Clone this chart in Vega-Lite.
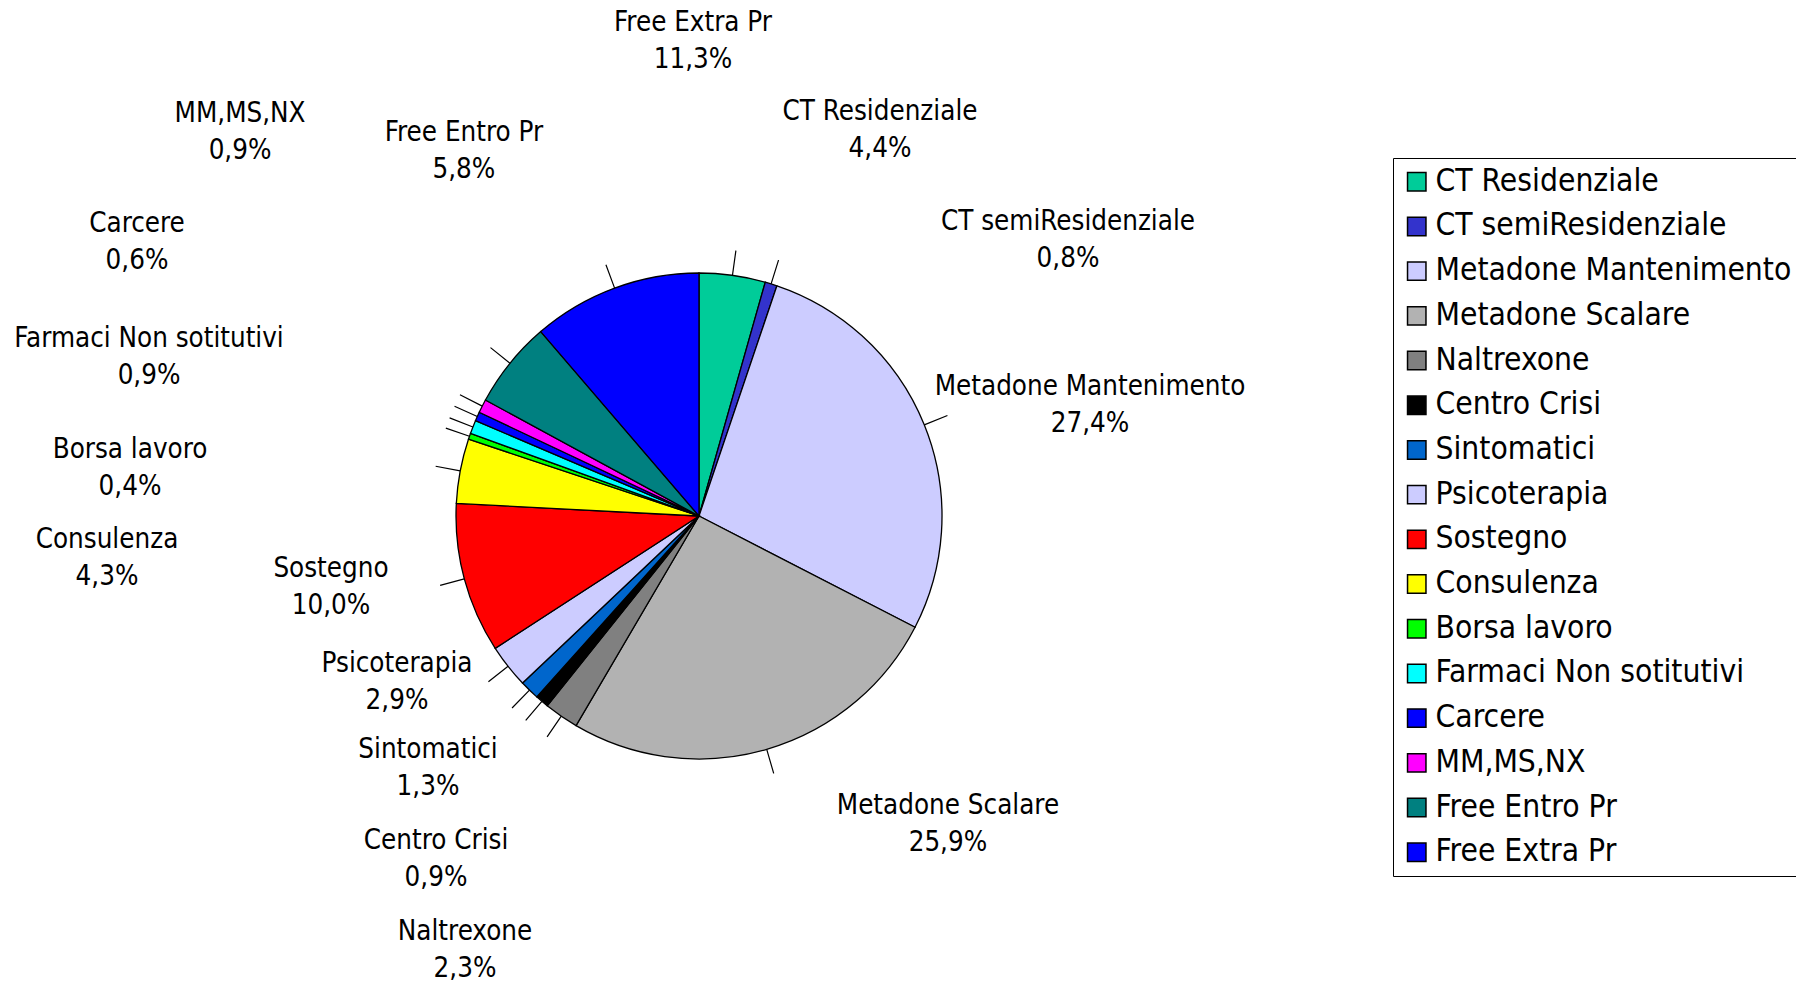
{
  "$schema": "https://vega.github.io/schema/vega-lite/v6.json",
  "width": 1398,
  "height": 930,
  "autosize": {"type": "none"},
  "padding": {"left": 0, "top": 51, "right": 398, "bottom": 1},
  "background": "white",
  "data": {
    "values": [
      {"rank": 1, "name": "CT Residenziale", "share": 0.044},
      {"rank": 2, "name": "CT semiResidenziale", "share": 0.008},
      {"rank": 3, "name": "Metadone Mantenimento", "share": 0.274},
      {"rank": 4, "name": "Metadone Scalare", "share": 0.259},
      {"rank": 5, "name": "Naltrexone", "share": 0.023},
      {"rank": 6, "name": "Centro Crisi", "share": 0.009},
      {"rank": 7, "name": "Sintomatici", "share": 0.013},
      {"rank": 8, "name": "Psicoterapia", "share": 0.029},
      {"rank": 9, "name": "Sostegno", "share": 0.100},
      {"rank": 10, "name": "Consulenza", "share": 0.043},
      {"rank": 11, "name": "Borsa lavoro", "share": 0.004},
      {"rank": 12, "name": "Farmaci Non sotitutivi", "share": 0.009},
      {"rank": 13, "name": "Carcere", "share": 0.006},
      {"rank": 14, "name": "MM,MS,NX", "share": 0.009},
      {"rank": 15, "name": "Free Entro Pr", "share": 0.058},
      {"rank": 16, "name": "Free Extra Pr", "share": 0.113}
    ]
  },
  "layer": [
    {
      "mark": {"type": "arc", "outerRadius": 243, "stroke": "black", "strokeWidth": 1.3},
      "encoding": {
        "theta": {"field": "share", "type": "quantitative", "stack": true},
        "order": {"field": "rank", "type": "quantitative"},
        "fill": {
          "field": "name",
          "type": "nominal",
          "scale": {
            "domain": ["CT Residenziale", "CT semiResidenziale", "Metadone Mantenimento", "Metadone Scalare", "Naltrexone", "Centro Crisi", "Sintomatici", "Psicoterapia", "Sostegno", "Consulenza", "Borsa lavoro", "Farmaci Non sotitutivi", "Carcere", "MM,MS,NX", "Free Entro Pr", "Free Extra Pr"],
            "range": ["#00CC99", "#3333CC", "#CCCCFF", "#B2B2B2", "#808080", "#000000", "#0066CC", "#CCCCFF", "#FF0000", "#FFFF00", "#00FF00", "#00FFFF", "#0000FF", "#FF00FF", "#008080", "#0000FF"]
          },
          "legend": {
            "title": null,
            "orient": "none",
            "legendX": 1393,
            "legendY": 107,
            "symbolType": "square",
            "symbolSize": 340,
            "symbolStrokeColor": "black",
            "symbolStrokeWidth": 1.5,
            "symbolOpacity": 1,
            "labelFont": "DejaVu Sans Condensed",
            "labelFontSize": 31.5,
            "labelColor": "black",
            "labelOffset": 3,
            "labelLimit": 1000,
            "rowPadding": 11.7,
            "padding": 8,
            "strokeColor": "black",
            "fillColor": "white"
          }
        }
      }
    },
    {
      "mark": {"type": "arc", "innerRadius": 243, "outerRadius": 268, "padAngle": 3.1416, "stroke": "black", "strokeWidth": 1.2, "fill": "black"},
      "encoding": {
        "theta": {"field": "share", "type": "quantitative", "stack": true},
        "order": {"field": "rank", "type": "quantitative"},
        "detail": {"field": "name", "type": "nominal"}
      }
    },
    {
      "mark": {"type": "text", "dy": -18.5, "fontSize": 27.5, "font": "DejaVu Sans Condensed", "align": "center", "baseline": "middle", "color": "black"},
      "encoding": {
        "theta": {"field": "rank", "type": "quantitative", "stack": null, "scale": {"type": "linear", "zero": false, "nice": false, "domain": [1, 2, 3, 4, 5, 6, 7, 8, 9, 10, 11, 12, 13, 14, 15, 16], "range": [0.4390, 0.9303, 1.2954, 2.4634, 3.6360, 3.7943, 3.9613, 4.2097, 4.5192, 4.6415, 4.7965, 4.9922, 5.1647, 5.4091, 5.7098, 6.2706]}},
        "radius": {"field": "rank", "type": "quantitative", "scale": {"type": "linear", "zero": false, "nice": false, "domain": [1, 2, 3, 4, 5, 6, 7, 8, 9, 10, 11, 12, 13, 14, 15, 16], "range": [425.9, 460.2, 406.3, 396.8, 493.1, 433.0, 370.7, 344.6, 375.0, 593.5, 571.0, 572.2, 624.8, 598.4, 433.3, 474.5]}},
        "text": {"field": "name", "type": "nominal"}
      }
    },
    {
      "mark": {"type": "text", "dy": 18.5, "fontSize": 27.5, "font": "DejaVu Sans Condensed", "align": "center", "baseline": "middle", "color": "black"},
      "encoding": {
        "theta": {"field": "rank", "type": "quantitative", "stack": null, "scale": {"type": "linear", "zero": false, "nice": false, "domain": [1, 2, 3, 4, 5, 6, 7, 8, 9, 10, 11, 12, 13, 14, 15, 16], "range": [0.4390, 0.9303, 1.2954, 2.4634, 3.6360, 3.7943, 3.9613, 4.2097, 4.5192, 4.6415, 4.7965, 4.9922, 5.1647, 5.4091, 5.7098, 6.2706]}},
        "radius": {"field": "rank", "type": "quantitative", "scale": {"type": "linear", "zero": false, "nice": false, "domain": [1, 2, 3, 4, 5, 6, 7, 8, 9, 10, 11, 12, 13, 14, 15, 16], "range": [425.9, 460.2, 406.3, 396.8, 493.1, 433.0, 370.7, 344.6, 375.0, 593.5, 571.0, 572.2, 624.8, 598.4, 433.3, 474.5]}},
        "text": {"field": "share", "type": "quantitative", "format": ".1%"}
      }
    }
  ],
  "resolve": {"scale": {"theta": "independent", "radius": "independent"}},
  "config": {
    "view": {"stroke": null},
    "locale": {"number": {"decimal": ",", "thousands": ".", "grouping": [3], "currency": ["€", ""]}}
  }
}
